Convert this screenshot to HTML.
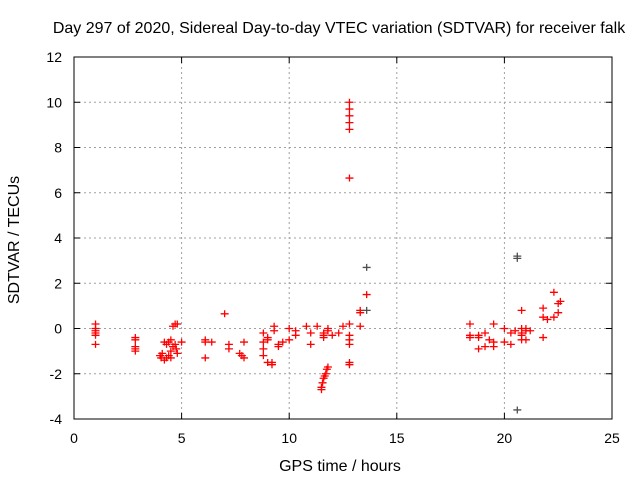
<!DOCTYPE html>
<html><head><meta charset="utf-8"><style>
body{margin:0;background:#fff}
svg{display:block;font-family:"Liberation Sans",sans-serif}
</style></head><body>
<svg id="chart" width="640" height="480">
<rect width="640" height="480" fill="#fff"/>
<text x="339" y="33" font-size="16" text-anchor="middle">Day 297 of 2020, Sidereal Day-to-day VTEC variation (SDTVAR) for receiver falk</text>
<g id="grid"></g>
<rect x="74" y="57" width="538" height="362" fill="none" stroke="#000"/>
<g id="ticks"></g>
<g id="pts"></g>
<text x="340" y="471" font-size="16" text-anchor="middle">GPS time / hours</text>
<text transform="translate(19,240) rotate(-90)" font-size="16" text-anchor="middle">SDTVAR / TECUs</text>
</svg>
<script>
const xTicks=[0,5,10,15,20,25];
const yTicks=[-4,-2,0,2,4,6,8,10,12];
const hours=[1,1,1,1,1,1, 2.85,2.85,2.85,2.85,2.85,
4.0,4.05,4.2,4.3,4.1,4.4,4.3,4.2,4.5,4.5,4.6,4.7,4.75,4.8,4.6,4.7,4.8,5.0,4.4,4.5,
6.1,6.1,6.1,6.4,7.0,7.2,7.2,7.7,7.8,7.9,7.9,
8.8,8.8,8.8,8.8,9.0,9.0,9.0,9.2,9.2,9.3,9.3,9.5,9.5,9.7,10.0,10.0,10.3,10.3,
10.8,11.0,11.0,11.3,11.6,11.6,11.6,11.8,11.8,12.0,11.8,11.75,11.7,11.65,11.6,11.55,11.5,11.5,12.3,12.5,
12.8,12.8,12.8,12.8,12.8,12.8,12.8,12.8,12.8,12.8,12.8,12.8,13.3,13.3,13.3,13.6,
18.4,18.4,18.4,18.8,18.8,18.8,19.1,19.1,19.3,19.5,19.5,19.5,20.0,20.0,20.3,20.3,20.5,20.8,20.8,20.8,20.8,20.8,21.0,21.0,21.0,21.2,21.8,21.8,21.8,22.0,22.3,22.3,22.5,22.5,22.6];
const values=[0.2,0.0,-0.1,-0.2,-0.3,-0.7, -0.4,-0.5,-0.8,-0.9,-1.0,
-1.2,-1.3,-1.4,-1.3,-1.1,-0.6,-0.7,-0.6,-0.5,-1.0,-0.8,-0.7,-0.9,-1.1,0.1,0.2,0.2,-0.6,-1.2,-1.3,
-0.5,-0.6,-1.3,-0.6,0.65,-0.7,-0.9,-1.1,-1.2,-1.3,-0.6,
-0.2,-0.6,-0.9,-1.2,-1.5,-0.4,-0.5,-1.5,-1.6,0.1,-0.1,-0.8,-0.7,-0.6,-0.5,0.0,-0.1,-0.3,
0.1,-0.2,-0.7,0.1,-0.3,-0.4,-0.2,-0.1,0.0,-0.3,-1.7,-1.8,-2.0,-2.1,-2.2,-2.4,-2.6,-2.7,-0.2,0.1,
10.0,9.7,9.4,9.1,8.8,6.65,0.2,-0.3,-0.5,-0.7,-1.5,-1.6,0.8,0.7,0.1,1.5,
0.2,-0.3,-0.4,-0.4,-0.9,-0.3,-0.8,-0.2,-0.5,0.2,-0.8,-0.6,0.0,-0.6,-0.7,-0.2,-0.1,0.8,0.0,-0.5,-0.3,-0.2,0.0,-0.5,-0.1,-0.1,0.9,0.5,-0.4,0.4,1.6,0.5,0.7,1.1,1.2];
const grayHours=[13.6,13.6,20.6,20.6,20.6];
const grayValues=[2.7,0.8,3.1,3.2,-3.6];
const X0=74,X1=612,Y0=419,Y1=57;
const sx=h=>X0+(h-0)/(25-0)*(X1-X0);
const sy=v=>Y0-(v+4)/16*(Y0-Y1);
const NS="http://www.w3.org/2000/svg";
function mk(t,a,p){const e=document.createElementNS(NS,t);for(const k in a)e.setAttribute(k,a[k]);p.appendChild(e);return e;}
const grid=document.getElementById('grid'),ticks=document.getElementById('ticks'),pts=document.getElementById('pts');
xTicks.forEach(t=>{const x=sx(t);
 if(t>0&&t<25){const g=mk('line',{x1:x,x2:x,y1:Y0,y2:Y1,stroke:'#a0a0a0','stroke-dasharray':'2,3'},grid);
 
 }
 mk('line',{x1:x,x2:x,y1:Y0,y2:Y0-6,stroke:'#000'},ticks);
 mk('line',{x1:x,x2:x,y1:Y1,y2:Y1+6,stroke:'#000'},ticks);
 const l=mk('text',{x:x,y:443,'font-size':14,'text-anchor':'middle'},ticks);l.textContent=t;
 
 });
yTicks.forEach(t=>{const y=sy(t);
 if(t>-4&&t<12){const g=mk('line',{x1:X0,x2:X1,y1:y,y2:y,stroke:'#a0a0a0','stroke-dasharray':'2,3'},grid);
 
 }
 mk('line',{x1:X0,x2:X0+6,y1:y,y2:y,stroke:'#000'},ticks);
 mk('line',{x1:X1,x2:X1-6,y1:y,y2:y,stroke:'#000'},ticks);
 const l=mk('text',{x:62,y:y+5,'font-size':14,'text-anchor':'end'},ticks);l.textContent=t;
 
 });
function plus(h,v,c){const x=sx(h),y=sy(v);
 const g=mk('path',{d:`M${x-4} ${y}H${x+4}M${x} ${y-3.5}V${y+3.5}`,stroke:c,'stroke-width':1.3,fill:'none'},pts);
 
 }
hours.forEach((h,i)=>plus(h,values[i],'#ff0000'));
grayHours.forEach((h,i)=>plus(h,grayValues[i],'#505050'));
</script>
</body></html>
